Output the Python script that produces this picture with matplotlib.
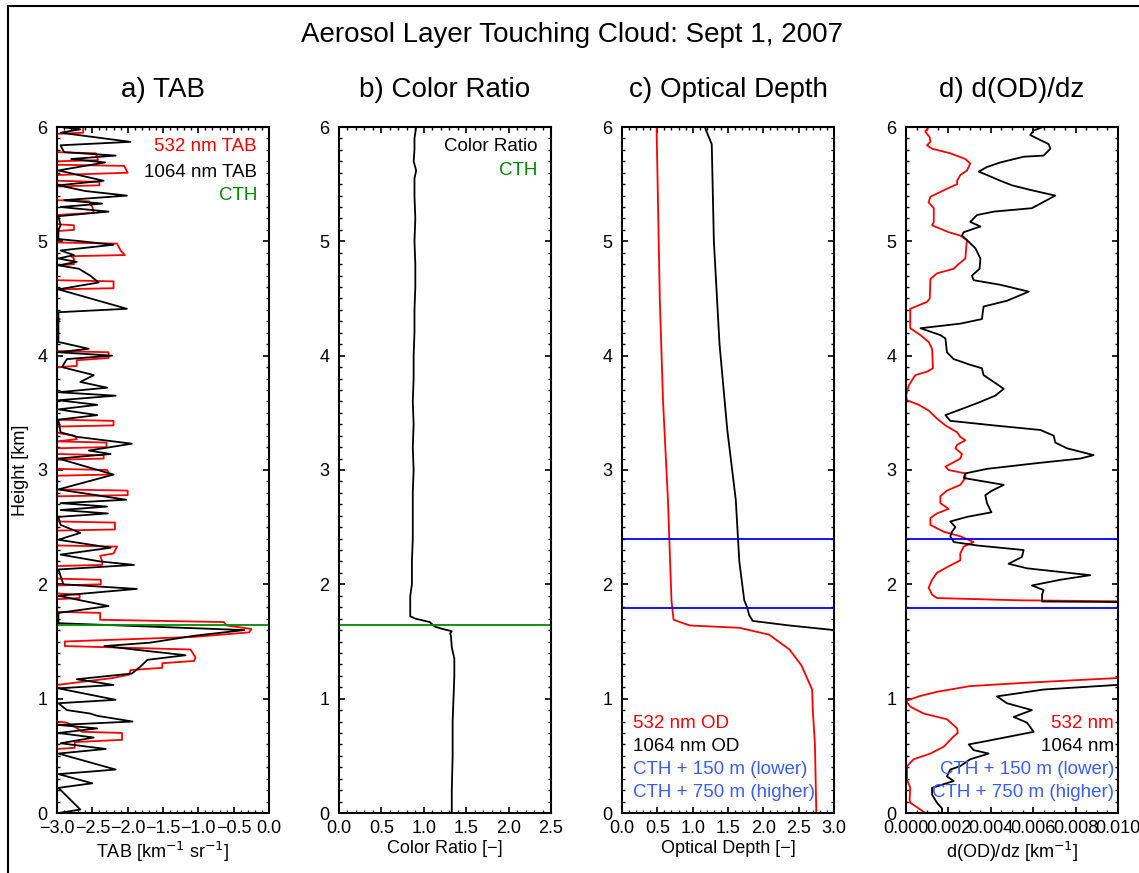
import matplotlib
matplotlib.use("Agg")
import matplotlib.pyplot as plt
from matplotlib.patches import Rectangle
from matplotlib.ticker import MultipleLocator, FuncFormatter

matplotlib.rcParams.update({
    "font.family": ["Liberation Sans", "DejaVu Sans"],
    "font.size": 13,
    "axes.linewidth": 1.5,
    "xtick.direction": "in",
    "ytick.direction": "in",
    "xtick.top": True,
    "ytick.right": True,
    "xtick.major.size": 4.5,
    "ytick.major.size": 4.5,
    "xtick.minor.size": 2.2,
    "ytick.minor.size": 2.2,
    "xtick.major.width": 1.2,
    "ytick.major.width": 1.2,
    "xtick.minor.width": 1.0,
    "ytick.minor.width": 1.0,
    "xtick.labelsize": 13,
    "ytick.labelsize": 13,
    "axes.labelsize": 13,
})

CTH = 1.645
CTH_LOW = 1.795
CTH_HIGH = 2.395

# a) log10 total attenuated backscatter, 1064 nm
tab1064_h = [6.00, 5.98, 5.95, 5.87, 5.84, 5.78, 5.75, 5.72, 5.69, 5.62, 5.53, 5.49, 5.44,
             5.40, 5.36, 5.33, 5.30, 5.26, 5.22, 5.14, 5.10, 5.02, 5.00, 4.97, 4.92, 4.88,
             4.85, 4.82, 4.79, 4.76, 4.70, 4.64, 4.58, 4.41, 4.38, 4.12, 4.06, 4.03, 4.00,
             3.97, 3.90, 3.83, 3.77, 3.72, 3.68, 3.65, 3.61, 3.57, 3.53, 3.48, 3.44, 3.33,
             3.29, 3.23, 3.17, 3.14, 3.10, 2.96, 2.83, 2.74, 2.71, 2.68, 2.65, 2.62, 2.59,
             2.52, 2.45, 2.39, 2.32, 2.26, 2.20, 2.17, 2.13, 2.00, 1.96, 1.90, 1.81, 1.75,
             1.66, 1.60, 1.55, 1.49, 1.46, 1.43, 1.38, 1.34, 1.28, 1.22, 1.17, 1.12, 1.09,
             0.99, 0.96, 0.90, 0.87, 0.85, 0.80, 0.77, 0.74, 0.70, 0.66, 0.61, 0.56, 0.52,
             0.38, 0.34, 0.26, 0.22, 0.03, 0.00]
tab1064_v = [-2.95, -2.67, -2.95, -1.96, -2.95, -2.90, -2.17, -2.80, -2.32, -2.98, -2.34, -2.98, -2.60,
             -2.01, -2.90, -2.36, -2.95, -2.27, -2.98, -2.95, -2.98, -2.98, -2.65, -2.20, -2.95, -2.76,
             -2.98, -2.72, -2.98, -2.69, -2.53, -2.41, -2.98, -2.01, -2.98, -2.98, -2.55, -2.98, -2.22,
             -2.86, -2.93, -2.48, -2.67, -2.29, -2.98, -2.17, -2.98, -2.43, -2.98, -2.43, -2.98, -2.95,
             -2.72, -1.94, -2.55, -2.24, -2.98, -2.20, -2.98, -2.02, -2.95, -2.29, -2.95, -2.28, -2.98,
             -2.95, -2.67, -2.98, -2.24, -2.95, -2.39, -1.91, -2.98, -2.91, -1.87, -2.98, -2.27, -2.98,
             -2.98, -0.35, -1.06, -1.68, -2.33, -1.91, -1.18, -1.72, -1.82, -1.94, -2.72, -2.20, -2.98,
             -2.17, -2.98, -2.86, -2.53, -2.43, -1.93, -2.98, -2.43, -2.98, -2.48, -2.95, -2.31, -2.98,
             -2.17, -2.98, -2.50, -2.98, -2.67, -2.98]

# a) log10 total attenuated backscatter, 532 nm (coarser bins)
tab532_h = [6.00, 5.95, 5.94, 5.78, 5.77, 5.71, 5.70, 5.67, 5.66, 5.60, 5.58, 5.53, 5.52, 5.49,
            5.48, 5.36, 5.35, 5.30, 5.25, 5.23, 5.15, 5.14, 5.10, 5.09, 4.99, 4.98, 4.92, 4.88,
            4.87, 4.85, 4.80, 4.79, 4.66, 4.65, 4.59, 4.58, 4.33, 4.32, 4.30, 4.04, 4.03, 3.98,
            3.96, 3.91, 3.90, 3.44, 3.43, 3.39, 3.38, 3.33, 3.32, 3.30, 3.27, 3.25, 3.24, 3.20,
            3.19, 3.14, 3.13, 3.10, 3.09, 3.01, 3.00, 2.96, 2.95, 2.83, 2.82, 2.78, 2.77, 2.55,
            2.54, 2.48, 2.47, 2.34, 2.33, 2.27, 2.25, 2.20, 2.17, 2.16, 2.05, 2.04, 2.00, 1.99,
            1.92, 1.91, 1.88, 1.87, 1.76, 1.75, 1.69, 1.67, 1.64, 1.61, 1.58, 1.54, 1.50, 1.46,
            1.43, 1.36, 1.33, 1.31, 1.27, 1.25, 1.21, 1.18, 1.12, 0.80, 0.79, 0.75, 0.71, 0.70,
            0.64, 0.62, 0.57, 0.56, 0.00]
tab532_v = [-2.63, -2.63, -3.00, -3.00, -2.45, -2.42, -3.00, -3.00, -2.05, -2.00, -3.00, -3.00, -2.40, -2.40,
            -3.00, -3.00, -2.55, -2.50, -2.48, -3.00, -3.00, -2.76, -2.76, -3.00, -3.00, -2.15, -2.10, -2.04,
            -2.80, -2.76, -2.76, -3.00, -3.00, -2.20, -2.20, -3.00, -3.00, -2.96, -3.00, -3.00, -2.27, -2.27,
            -2.72, -2.72, -3.00, -3.00, -2.20, -2.20, -3.00, -3.00, -2.95, -2.75, -2.72, -3.00, -2.30, -2.30,
            -3.00, -3.00, -2.34, -2.34, -3.00, -3.00, -2.29, -2.26, -3.00, -3.00, -2.00, -2.00, -3.00, -3.00,
            -2.18, -2.18, -3.00, -3.00, -2.15, -2.20, -2.39, -2.36, -2.36, -3.00, -3.00, -2.38, -2.38, -3.00,
            -3.00, -2.68, -2.68, -3.00, -3.00, -2.39, -2.39, -0.64, -0.60, -0.25, -0.28, -1.07, -2.89, -2.89,
            -1.11, -1.04, -1.06, -1.51, -1.51, -1.96, -1.98, -2.22, -3.00, -3.00, -2.86, -2.74, -2.64, -2.08,
            -2.08, -2.75, -2.75, -3.00, -3.00]

# b) color ratio
cr_h = [6.00, 5.90, 5.80, 5.70, 5.62, 5.55, 5.40, 5.20, 5.00, 4.80, 4.60, 4.40, 4.20, 4.00,
        3.80, 3.60, 3.40, 3.20, 3.00, 2.80, 2.60, 2.40, 2.20, 2.00, 1.90, 1.72, 1.70, 1.67,
        1.63, 1.61, 1.59, 1.57, 1.55, 1.45, 1.35, 1.20, 1.00, 0.80, 0.50, 0.20, 0.00]
cr_v = [0.91, 0.89, 0.89, 0.88, 0.91, 0.89, 0.89, 0.90, 0.89, 0.90, 0.90, 0.89, 0.89, 0.88,
        0.88, 0.87, 0.88, 0.87, 0.88, 0.87, 0.87, 0.87, 0.86, 0.86, 0.84, 0.84, 0.90, 1.07,
        1.13, 1.22, 1.33, 1.31, 1.32, 1.33, 1.36, 1.36, 1.35, 1.34, 1.34, 1.33, 1.33]

# c) optical depth
od532_h = [6.00, 5.97, 4.49, 3.61, 2.74, 1.86, 1.69, 1.64, 1.62, 1.56, 1.43, 1.29, 1.08, 0.90, 0.60, 0.00]
od532_v = [0.49, 0.49, 0.535, 0.58, 0.65, 0.70, 0.73, 0.96, 1.66, 2.08, 2.37, 2.54, 2.69, 2.70, 2.73, 2.75]
od1064_h = [6.00, 5.85, 5.00, 4.10, 3.35, 2.74, 2.20, 1.86, 1.80, 1.73, 1.68, 1.64, 1.60, 1.55]
od1064_v = [1.17, 1.27, 1.30, 1.38, 1.49, 1.61, 1.66, 1.73, 1.77, 1.80, 1.85, 2.37, 3.00, 3.40]

# d) d(OD)/dz in units of 1e-3 km^-1
dod532_h = [6.00, 5.96, 5.91, 5.87, 5.84, 5.81, 5.77, 5.72, 5.68, 5.62, 5.58, 5.53, 5.50, 5.46,
            5.39, 5.34, 5.29, 5.17, 5.14, 5.08, 5.05, 5.01, 4.97, 4.85, 4.79, 4.76, 4.72, 4.67,
            4.50, 4.47, 4.41, 4.24, 4.18, 4.12, 4.06, 3.89, 3.86, 3.83, 3.74, 3.65, 3.61, 3.57,
            3.52, 3.45, 3.39, 3.33, 3.29, 3.26, 3.22, 3.19, 3.14, 3.10, 3.06, 3.03, 3.00, 2.97,
            2.93, 2.87, 2.82, 2.77, 2.71, 2.66, 2.62, 2.58, 2.52, 2.46, 2.42, 2.37, 2.33, 2.27,
            2.21, 2.15, 2.10, 2.04, 1.97, 1.91, 1.88, 1.86, 1.845, 1.19, 1.18, 1.14, 1.11, 1.06,
            1.02, 0.98, 0.93, 0.87, 0.82, 0.74, 0.70, 0.67, 0.58, 0.52, 0.47, 0.41, 0.29, 0.22,
            0.12, 0.09, 0.04, 0.00]
dod532_v = [1.07, 0.91, 1.12, 1.15, 0.99, 1.23, 2.09, 2.80, 3.03, 2.88, 2.56, 2.41, 2.41, 1.93,
            1.15, 1.07, 1.31, 1.31, 1.23, 2.01, 2.56, 2.88, 2.85, 2.80, 2.41, 2.25, 1.46, 1.15,
            1.12, 0.99, 0.20, 0.20, 0.68, 1.07, 1.23, 1.27, 0.99, 0.44, 0.13, 0.00, 0.05, 0.60,
            1.07, 1.46, 1.86, 2.41, 2.56, 2.80, 2.41, 2.33, 2.64, 2.56, 2.17, 1.86, 2.01, 2.80,
            2.80, 2.56, 1.93, 1.62, 1.62, 2.01, 1.46, 1.15, 1.15, 1.78, 2.56, 3.19, 2.72, 2.56,
            2.56, 1.93, 1.46, 1.23, 1.07, 1.23, 1.46, 5.39, 14.0, 14.0, 9.95, 5.71, 3.03, 1.46,
            0.60, 0.00, 0.20, 0.83, 1.93, 2.41, 2.44, 2.25, 1.78, 1.15, 0.36, 0.05, 0.05, 0.20,
            0.17, 0.20, 0.60, 0.91]
dod1064_h = [6.00, 5.97, 5.93, 5.90, 5.85, 5.81, 5.75, 5.74, 5.69, 5.65, 5.61, 5.58, 5.53, 5.49,
             5.45, 5.40, 5.33, 5.29, 5.26, 5.23, 5.17, 5.13, 5.08, 5.05, 5.01, 4.94, 4.85, 4.76,
             4.70, 4.66, 4.62, 4.56, 4.48, 4.43, 4.32, 4.28, 4.24, 4.18, 4.15, 4.03, 3.97, 3.92,
             3.89, 3.83, 3.77, 3.71, 3.65, 3.59, 3.54, 3.48, 3.43, 3.39, 3.35, 3.30, 3.24, 3.19,
             3.13, 3.10, 3.06, 3.01, 2.97, 2.93, 2.87, 2.82, 2.78, 2.71, 2.63, 2.59, 2.55, 2.50,
             2.46, 2.42, 2.37, 2.34, 2.30, 2.24, 2.18, 2.14, 2.08, 2.04, 1.99, 1.95, 1.91, 1.85,
             1.84, 1.135, 1.12, 1.08, 1.02, 0.96, 0.90, 0.84, 0.79, 0.71, 0.67, 0.63, 0.60, 0.55,
             0.52, 0.47, 0.41, 0.38, 0.32, 0.28, 0.22, 0.16, 0.09, 0.04, 0.00]
dod1064_v = [6.46, 6.02, 5.86, 6.18, 6.73, 6.81, 6.49, 5.55, 4.45, 3.82, 3.43, 3.82, 4.45, 5.00,
             5.86, 7.04, 6.34, 5.94, 4.14, 3.35, 3.03, 3.51, 2.72, 2.64, 2.88, 3.27, 3.51, 3.47,
             3.11, 3.19, 4.45, 5.79, 4.76, 3.66, 3.58, 2.56, 0.68, 1.62, 1.86, 1.93, 2.25, 3.03,
             3.58, 3.66, 4.14, 4.61, 4.21, 3.43, 2.72, 1.86, 2.09, 4.14, 6.34, 6.97, 7.04, 7.59,
             8.85, 8.22, 6.18, 3.82, 2.80, 2.72, 4.61, 4.06, 3.74, 3.82, 4.03, 2.88, 2.09, 2.33,
             2.17, 2.09, 2.25, 3.35, 5.55, 5.47, 4.84, 5.71, 8.69, 7.28, 5.94, 6.49, 6.42, 6.42,
             14.0, 14.0, 9.95, 6.49, 4.29, 4.76, 5.94, 5.08, 5.71, 6.02, 4.92, 3.82, 2.96, 3.19,
             3.90, 3.03, 2.56, 2.09, 1.93, 2.25, 1.23, 1.23, 1.46, 1.70, 1.70]

RED = "#ff0000"
GREEN = "#008a00"
BLUE = "#0000ff"
BLUE_TXT = "#3a5cff"
LW = 1.3

W, H = 1139, 873
fig = plt.figure(figsize=(W / 100, H / 100), dpi=100)

# outer frame
fig.add_artist(Rectangle((8 / W, -0.05), 1.1, 1.05 - 6 / H, transform=fig.transFigure,
                         fill=False, edgecolor="black", linewidth=1.5))

lefts = [57, 339, 622, 906]
axes = [fig.add_axes([l / W, 60 / H, 212 / W, 686 / H]) for l in lefts]


def minus(fmt):
    return FuncFormatter(lambda v, p: (fmt % v).replace("-", "\u2212"))


for ax in axes:
    ax.set_ylim(0, 6)
    ax.yaxis.set_major_locator(MultipleLocator(1))
    ax.yaxis.set_minor_locator(MultipleLocator(0.1))
    ax.tick_params(axis="y", pad=7)
    ax.tick_params(axis="x", pad=5)

# a) TAB
ax = axes[0]
ax.plot(tab532_v, tab532_h, color=RED, lw=LW)
ax.plot(tab1064_v, tab1064_h, color="black", lw=LW)
ax.axhline(CTH, color=GREEN, lw=LW)
ax.set_xlim(-3, 0)
ax.xaxis.set_major_locator(MultipleLocator(0.5))
ax.xaxis.set_minor_locator(MultipleLocator(0.1))
ax.xaxis.set_major_formatter(minus("%.1f"))
ax.set_xlabel("TAB [km$^{-1}$ sr$^{-1}$]", labelpad=2)
ax.set_ylabel("Height [km]", labelpad=6)
for txt, col, y in [("532 nm TAB", RED, 0.971), ("1064 nm TAB", "black", 0.934), ("CTH", GREEN, 0.900)]:
    ax.text(0.943, y, txt, color=col, ha="right", va="center", fontsize=13.5, transform=ax.transAxes)

# b) color ratio
ax = axes[1]
ax.plot(cr_v, cr_h, color="black", lw=LW)
ax.axhline(CTH, color=GREEN, lw=LW)
ax.set_xlim(0, 2.5)
ax.xaxis.set_major_locator(MultipleLocator(0.5))
ax.xaxis.set_minor_locator(MultipleLocator(0.1))
ax.xaxis.set_major_formatter(minus("%.1f"))
ax.set_xlabel("Color Ratio [\u2212]", labelpad=2)
for txt, col, y in [("Color Ratio", "black", 0.971), ("CTH", GREEN, 0.937)]:
    ax.text(0.934, y, txt, color=col, ha="right", va="center", fontsize=13.5, transform=ax.transAxes)

# c) optical depth
ax = axes[2]
ax.plot(od532_v, od532_h, color=RED, lw=LW)
ax.plot(od1064_v, od1064_h, color="black", lw=LW)
ax.axhline(CTH_LOW, color=BLUE, lw=LW)
ax.axhline(CTH_HIGH, color=BLUE, lw=LW)
ax.set_xlim(0, 3)
ax.xaxis.set_major_locator(MultipleLocator(0.5))
ax.xaxis.set_minor_locator(MultipleLocator(0.1))
ax.xaxis.set_major_formatter(minus("%.1f"))
ax.set_xlabel("Optical Depth [\u2212]", labelpad=2)
legend_c = [("532 nm OD", RED), ("1064 nm OD", "black"),
            ("CTH + 150 m (lower)", BLUE_TXT), ("CTH + 750 m (higher)", BLUE_TXT)]
for i, (txt, col) in enumerate(legend_c):
    ax.text(0.052, 0.131 - i * 0.0335, txt, color=col, ha="left", va="center",
            fontsize=13.5, transform=ax.transAxes)

# d) d(OD)/dz
ax = axes[3]
ax.plot([v * 1e-3 for v in dod532_v], dod532_h, color=RED, lw=LW)
ax.plot([v * 1e-3 for v in dod1064_v], dod1064_h, color="black", lw=LW)
ax.axhline(CTH_LOW, color=BLUE, lw=LW)
ax.axhline(CTH_HIGH, color=BLUE, lw=LW)
ax.set_xlim(0, 0.01)
ax.xaxis.set_major_locator(MultipleLocator(0.002))
ax.xaxis.set_minor_locator(MultipleLocator(0.0005))
ax.xaxis.set_major_formatter(minus("%.3f"))
ax.set_xlabel("d(OD)/dz [km$^{-1}$]", labelpad=2)
legend_d = [("532 nm", RED), ("1064 nm", "black"),
            ("CTH + 150 m (lower)", BLUE_TXT), ("CTH + 750 m (higher)", BLUE_TXT)]
for i, (txt, col) in enumerate(legend_d):
    ax.text(0.981, 0.131 - i * 0.0335, txt, color=col, ha="right", va="center",
            fontsize=13.5, transform=ax.transAxes)

titles = ["a) TAB", "b) Color Ratio", "c) Optical Depth", "d) d(OD)/dz"]
for ax, t in zip(axes, titles):
    pos = ax.get_position()
    fig.text(pos.x0 + pos.width / 2, 1 - 90 / H, t, ha="center", va="center", fontsize=20)

fig.text(572 / W, 1 - 35 / H, "Aerosol Layer Touching Cloud: Sept 1, 2007",
         ha="center", va="center", fontsize=20)

fig.savefig("out.png", dpi=100)
